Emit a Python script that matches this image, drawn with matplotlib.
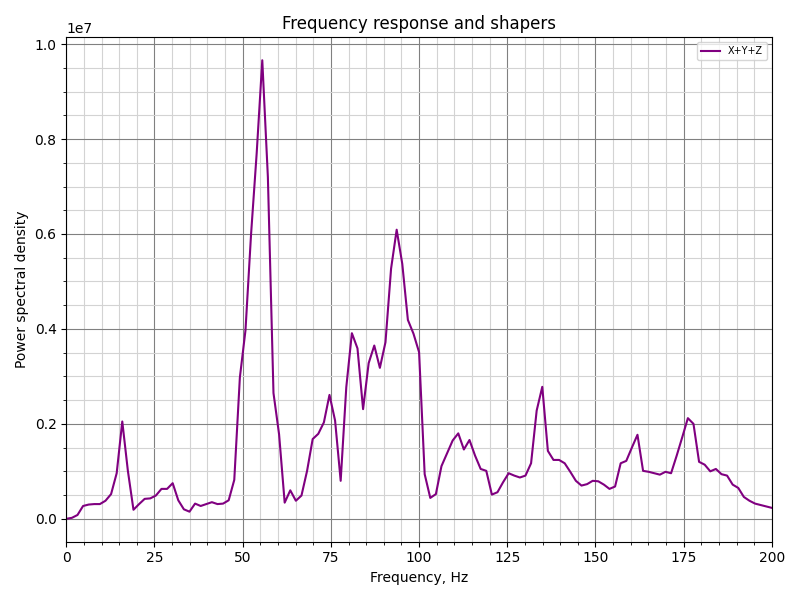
import matplotlib
matplotlib.use('Agg')
import matplotlib.pyplot as plt
import matplotlib.ticker
import matplotlib.font_manager
import numpy as np

# frequency bins (evenly spaced FFT bins, 0..200 Hz)
freq_step = 200.0 / 126
n_bins = 127

# power spectral density, units of 1e6
psd_e6 = [
    0.00, 0.02, 0.08, 0.27, 0.30, 0.31, 0.31, 0.38, 0.52, 0.96,
    2.05, 1.01, 0.19, 0.31, 0.42, 0.43, 0.49, 0.63, 0.63, 0.75,
    0.39, 0.20, 0.15, 0.32, 0.27, 0.31, 0.35, 0.31, 0.32, 0.39,
    0.82, 2.98, 3.97, 6.00, 7.70, 9.66, 7.20, 2.65, 1.78, 0.34,
    0.60, 0.38, 0.49, 1.01, 1.68, 1.79, 2.03, 2.61, 2.07, 0.80,
    2.77, 3.91, 3.59, 2.31, 3.28, 3.65, 3.18, 3.72, 5.27, 6.09,
    5.37, 4.19, 3.90, 3.51, 0.94, 0.44, 0.52, 1.11, 1.38, 1.65,
    1.80, 1.46, 1.66, 1.33, 1.05, 1.01, 0.51, 0.56, 0.77, 0.96,
    0.91, 0.87, 0.91, 1.17, 2.28, 2.78, 1.43, 1.24, 1.24, 1.17,
    0.99, 0.80, 0.70, 0.73, 0.80, 0.79, 0.72, 0.63, 0.68, 1.17,
    1.22, 1.50, 1.77, 1.01, 0.99, 0.96, 0.93, 0.99, 0.96, 1.33,
    1.72, 2.12, 2.00, 1.20, 1.14, 1.00, 1.05, 0.94, 0.91, 0.72,
    0.65, 0.46, 0.38, 0.32, 0.29, 0.26, 0.23,
]

freqs = np.arange(n_bins) * freq_step
psd = np.array(psd_e6) * 1e6

fig, ax = plt.subplots(figsize=(8, 6), dpi=100)
ax.set_title('Frequency response and shapers')
ax.set_xlabel('Frequency, Hz')
ax.set_xlim([0, 200])
ax.set_ylabel('Power spectral density')

ax.plot(freqs, psd, label='X+Y+Z', color='purple')

ax.xaxis.set_minor_locator(matplotlib.ticker.MultipleLocator(5))
ax.yaxis.set_minor_locator(matplotlib.ticker.AutoMinorLocator())
ax.ticklabel_format(axis='y', style='scientific', scilimits=(0, 0))
ax.grid(which='major', color='grey')
ax.grid(which='minor', color='lightgrey')

fontP = matplotlib.font_manager.FontProperties()
fontP.set_size('x-small')
ax.legend(loc='upper right', prop=fontP)

fig.tight_layout()
fig.savefig('out.png')
